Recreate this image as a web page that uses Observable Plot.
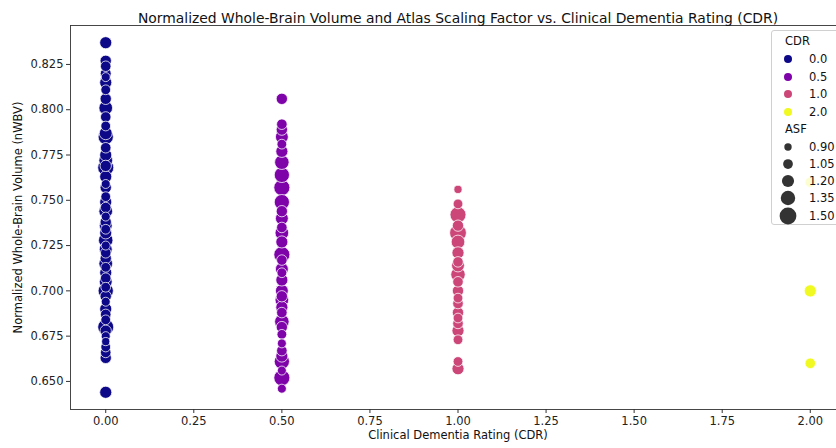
<!DOCTYPE html>
<html>
<head>
<meta charset="utf-8">
<script src="https://cdn.jsdelivr.net/npm/d3@7"></script>
<script src="https://cdn.jsdelivr.net/npm/@observablehq/plot@0.6"></script>
<style>
  html, body { margin: 0; padding: 0; background: #fff; }
  #wrap { position: relative; width: 836px; height: 448px; overflow: hidden; font-family: "DejaVu Sans", sans-serif; }
  #legend { position: absolute; left: 771px; top: 30px; width: 80px; height: 195px; background: rgba(255,255,255,0.8);
            border: 1px solid #d0d0d0; border-radius: 3px; box-sizing: border-box; }
</style>
</head>
<body>
<div id="wrap"></div>
<script>
// ---- data ----
const cdrLevels = [0.0, 0.5, 1.0, 2.0];
const cdrColors = ["#0d0887", "#7e03a8", "#cc4778", "#f0f921"];
const cdrLabels = ["0.0", "0.5", "1.0", "2.0"];

const nwbvCdr0 = [0.837,0.827,0.824,0.820,0.818,0.815,0.811,0.806,0.801,0.796,0.791,0.787,0.785,0.779,0.775,0.772,0.769,0.768,0.763,0.759,0.757,0.752,0.749,0.746,0.744,0.741,0.738,0.736,0.734,0.732,0.728,0.725,0.723,0.721,0.718,0.715,0.713,0.710,0.707,0.705,0.702,0.700,0.697,0.694,0.690,0.687,0.684,0.680,0.678,0.675,0.672,0.669,0.666,0.663,0.644];
const asfCdr0  = [1.20,1.15,1.10,1.12,1.00,1.20,1.05,1.15,1.30,1.10,1.05,1.25,1.40,1.10,1.20,1.30,1.15,1.45,1.20,1.00,1.15,1.05,1.20,1.10,1.30,1.00,1.15,1.25,1.05,1.20,1.35,1.00,1.25,1.10,1.15,1.30,1.05,1.20,1.10,1.25,1.05,1.40,1.15,1.00,1.20,1.10,1.05,1.45,1.15,1.00,0.95,1.05,1.10,1.15,1.20];

const nwbvCdr05 = [0.806,0.792,0.789,0.785,0.781,0.777,0.771,0.764,0.757,0.749,0.744,0.740,0.735,0.732,0.727,0.720,0.717,0.712,0.710,0.706,0.700,0.697,0.695,0.691,0.688,0.683,0.680,0.676,0.671,0.667,0.664,0.661,0.656,0.652,0.646];
const asfCdr05  = [1.15,1.10,1.15,1.25,1.05,1.20,1.35,1.40,1.45,1.40,1.15,1.25,1.10,1.30,1.20,1.45,1.10,1.25,1.05,1.20,1.25,1.15,1.30,1.20,1.10,1.35,1.15,1.05,1.00,1.10,1.20,1.40,1.00,1.45,1.00];

const nwbvCdr1 = [0.756,0.748,0.742,0.736,0.732,0.727,0.721,0.716,0.714,0.709,0.705,0.700,0.696,0.693,0.688,0.685,0.682,0.678,0.673,0.661,0.657];
const asfCdr1  = [0.95,1.05,1.45,1.15,1.50,1.30,1.20,1.10,1.25,1.35,1.10,1.15,1.05,1.10,1.15,1.05,1.10,1.20,1.05,1.05,1.20];

const nwbvCdr2 = [0.760,0.700,0.660];
const asfCdr2  = [1.10,1.20,1.10];

const asfLegend = [0.90, 1.05, 1.20, 1.35, 1.50];
const asfLegendLabels = ["0.90", "1.05", "1.20", "1.35", "1.50"];

const xTicks = [0, 0.25, 0.5, 0.75, 1.0, 1.25, 1.5, 1.75, 2.0];
const yTicks = [0.650, 0.675, 0.700, 0.725, 0.750, 0.775, 0.800, 0.825];

// ---- table ----
const groups = [[0.0, nwbvCdr0, asfCdr0], [0.5, nwbvCdr05, asfCdr05], [1.0, nwbvCdr1, asfCdr1], [2.0, nwbvCdr2, asfCdr2]];
const rows = groups.flatMap(([c, ys, as]) => ys.map((y, i) => ({cdr: c, nwbv: y, asf: as[i]})));

const font = "DejaVu Sans, sans-serif";
const plot = Plot.plot({
  width: 836,
  height: 448,
  marginLeft: 70,
  marginRight: -9,
  marginTop: 25,
  marginBottom: 39,
  style: {fontFamily: font, fontSize: "11.5px", color: "#222", background: "#fff", overflow: "hidden"},
  x: {domain: [-0.1, 2.1], ticks: xTicks, tickFormat: d3.format(".2f"), label: null, tickSize: 4, tickPadding: 3},
  y: {domain: [0.6345, 0.8465], ticks: yTicks, tickFormat: d3.format(".3f"), label: null, tickSize: 4, tickPadding: 3},
  color: {type: "ordinal", domain: cdrLevels, range: cdrColors},
  r: {type: "linear", domain: [0.9, 1.5], range: [3.7, 8.4]},
  marks: [
    Plot.dot(rows, {x: "cdr", y: "nwbv", r: "asf", fill: "cdr", stroke: "white", strokeWidth: 0.75}),
    Plot.frame({stroke: "#333", strokeWidth: 0.9}),
    Plot.axisX({ticks: xTicks, tickFormat: d3.format(".2f"), tickSize: 4, tickPadding: 3, label: null, stroke: "#333"}),
    Plot.axisY({ticks: yTicks, tickFormat: d3.format(".3f"), tickSize: 4, tickPadding: 3, label: null, stroke: "#333"}),
    Plot.text(["Normalized Whole-Brain Volume and Atlas Scaling Factor vs. Clinical Dementia Rating (CDR)"],
      {frameAnchor: "top", dy: -12, fontSize: 13.9, fill: "#111"}),
    Plot.text(["Clinical Dementia Rating (CDR)"], {frameAnchor: "bottom", dy: 29, fontSize: 11.5, fill: "#111"}),
    Plot.text(["Normalized Whole-Brain Volume (nWBV)"], {frameAnchor: "left", textAnchor: "middle", dx: -52, rotate: -90, fontSize: 11.5, fill: "#111"})
  ]
});

const wrap = document.getElementById("wrap");
wrap.appendChild(plot);

// ---- legend (overlay, built from the arrays and plot scales) ----
const rScale = plot.scale("r");
const leg = document.createElement("div");
leg.id = "legend";
wrap.appendChild(leg);
const ns = "http://www.w3.org/2000/svg";
const svg = document.createElementNS(ns, "svg");
svg.setAttribute("width", 80); svg.setAttribute("height", 195);
svg.style.fontFamily = font; svg.style.fontSize = "11.5px";
leg.appendChild(svg);
function addText(x, y, s) {
  const t = document.createElementNS(ns, "text");
  t.setAttribute("x", x); t.setAttribute("y", y); t.setAttribute("dy", "0.35em");
  t.setAttribute("fill", "#111"); t.textContent = s; svg.appendChild(t);
}
function addDot(x, y, r, fill) {
  const c = document.createElementNS(ns, "circle");
  c.setAttribute("cx", x); c.setAttribute("cy", y); c.setAttribute("r", r);
  c.setAttribute("fill", fill); svg.appendChild(c);
}
const ox = 772, oy = 30;
addText(785 - ox, 40 - oy, "CDR");
const cdrY = [58, 76, 93, 111];
cdrLabels.forEach((l, i) => { addDot(788 - ox, cdrY[i] - oy, 4, cdrColors[i]); addText(809 - ox, cdrY[i] - oy, l); });
addText(785 - ox, 128 - oy, "ASF");
const asfY = [146, 163, 180, 197, 215];
asfLegend.forEach((v, i) => { addDot(788 - ox, asfY[i] - oy, rScale.apply(v), "#333"); addText(809 - ox, asfY[i] - oy, asfLegendLabels[i]); });
</script>
</body>
</html>
